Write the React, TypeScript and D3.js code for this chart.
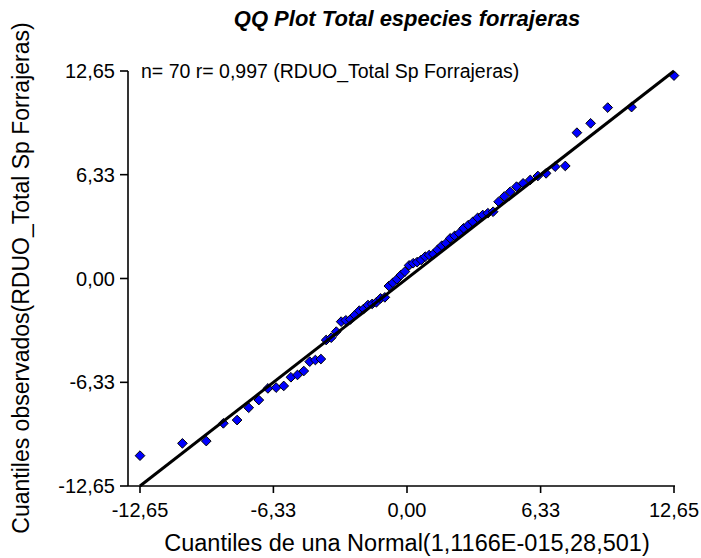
import React from "react";
import * as d3 from "d3";

// Theoretical normal quantiles (x) and sorted observed residuals (y)
const normalQuantiles: number[] = [
  -12.65, -10.64, -9.51, -8.7, -8.05, -7.5, -7.02, -6.59, -6.2, -5.84,
  -5.5, -5.19, -4.89, -4.61, -4.34, -4.08, -3.83, -3.59, -3.35, -3.12,
  -2.9, -2.68, -2.47, -2.26, -2.05, -1.85, -1.65, -1.45, -1.25, -1.05,
  -0.86, -0.67, -0.48, -0.29, -0.1, 0.1, 0.29, 0.48, 0.67, 0.86,
  1.05, 1.25, 1.45, 1.65, 1.85, 2.05, 2.26, 2.47, 2.68, 2.9,
  3.12, 3.35, 3.59, 3.83, 4.08, 4.34, 4.61, 4.89, 5.19, 5.5,
  5.84, 6.2, 6.59, 7.02, 7.5, 8.05, 8.7, 9.51, 10.64, 12.65,
];

const observedQuantiles: number[] = [
  -10.8, -10.05, -9.91, -8.83, -8.63, -7.88, -7.41, -6.7, -6.65, -6.55,
  -6.02, -5.88, -5.64, -5.07, -4.97, -4.91, -3.75, -3.61, -3.24, -2.63,
  -2.55, -2.49, -2.23, -1.96, -1.85, -1.62, -1.55, -1.45, -1.21, -1.15,
  -0.46, -0.26, -0.05, 0.21, 0.42, 0.8, 0.93, 1.0, 1.13, 1.33,
  1.43, 1.49, 1.75, 2.0, 2.15, 2.45, 2.6, 2.76, 3.06, 3.25,
  3.46, 3.7, 3.87, 3.98, 4.07, 4.68, 5.0, 5.29, 5.6, 5.8,
  6.01, 6.25, 6.41, 6.82, 6.86, 8.89, 9.46, 10.42, 10.45, 12.37,
];

const tickValues: number[] = [-12.65, -6.33, 0, 6.33, 12.65];
const tickLabels: string[] = ["-12,65", "-6,33", "0,00", "6,33", "12,65"];
const referenceLine: number[][] = [[-12.65, -12.65], [12.65, 12.65]];

const title = "QQ Plot Total especies forrajeras";
const annotation = "n= 70 r= 0,997 (RDUO_Total Sp Forrajeras)";
const xTitle = "Cuantiles de una Normal(1,1166E-015,28,501)";
const yTitle = "Cuantiles observados(RDUO_Total Sp Forrajeras)";

const W = 701;
const H = 558;
const FONT = "'Liberation Sans', Arial, sans-serif";

export default function App() {
  const x = d3.scaleLinear().domain([-12.65, 12.65]).range([140, 674]);
  const y = d3.scaleLinear().domain([-12.65, 12.65]).range([486, 71]);
  const axisLeft = 128;
  const axisBottom = 486;

  const line = d3
    .line<number[]>()
    .x((d) => x(d[0]))
    .y((d) => y(d[1]));

  const diamond = d3.symbol().type(d3.symbolDiamond2).size(60)();

  return (
    <svg
      width={W}
      height={H}
      style={{ position: "absolute", left: 0, top: 0, background: "#fff" }}
      fontFamily={FONT}
    >
      <rect width={W} height={H} fill="#fff" />
      <text
        x={407}
        y={26}
        textAnchor="middle"
        fontSize={22}
        fontWeight="bold"
        fontStyle="italic"
        fill="#000"
      >
        {title}
      </text>

      {/* axes */}
      <g stroke="#000" strokeWidth={1.6} fill="none">
        <line x1={axisLeft} x2={axisLeft} y1={y(12.65)} y2={axisBottom} />
        <line x1={axisLeft} x2={x(12.65) + 1} y1={axisBottom} y2={axisBottom} />
        {tickValues.map((v, i) => (
          <line key={"yt" + i} x1={axisLeft - 8} x2={axisLeft} y1={y(v)} y2={y(v)} />
        ))}
        {tickValues.map((v, i) => (
          <line key={"xt" + i} x1={x(v)} x2={x(v)} y1={axisBottom} y2={axisBottom + 7} />
        ))}
      </g>

      {tickValues.map((v, i) => (
        <text key={"yl" + i} x={115} y={y(v) + 7} textAnchor="end" fontSize={20} fill="#000">
          {tickLabels[i]}
        </text>
      ))}
      {tickValues.map((v, i) => (
        <text key={"xl" + i} x={x(v)} y={517} textAnchor="middle" fontSize={20} fill="#000">
          {tickLabels[i]}
        </text>
      ))}

      <text x={141} y={78} fontSize={19.5} fill="#000">
        {annotation}
      </text>

      {/* points */}
      <g>
        {normalQuantiles.map((q, i) => (
          <path
            key={"p" + i}
            d={diamond as string}
            transform={`translate(${x(q)},${y(observedQuantiles[i])})`}
            fill="#0000ff"
            stroke="#000"
            strokeWidth={1}
          />
        ))}
      </g>

      {/* reference line */}
      <path d={line(referenceLine) as string} stroke="#000" strokeWidth={3} fill="none" />

      <text x={407} y={551} textAnchor="middle" fontSize={23.5} fill="#000">
        {xTitle}
      </text>
      <text
        transform={`translate(29,${278}) rotate(-90)`}
        textAnchor="middle"
        fontSize={23}
        fill="#000"
      >
        {yTitle}
      </text>
    </svg>
  );
}
